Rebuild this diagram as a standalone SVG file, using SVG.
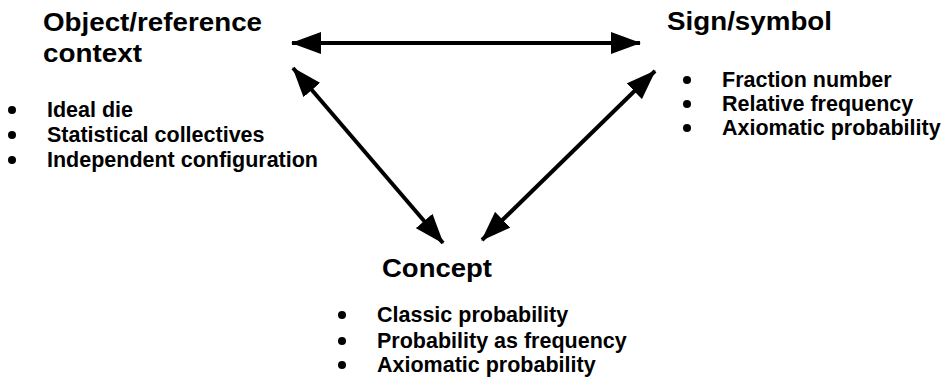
<svg xmlns="http://www.w3.org/2000/svg" width="946" height="380" viewBox="0 0 946 380">
  <style>
    .title { font-family: "Liberation Sans", Arial, sans-serif; font-weight: bold; font-size: 26px; fill: #000; }
    .item { font-family: "Liberation Sans", Arial, sans-serif; font-weight: bold; font-size: 21.5px; fill: #000; }
    .dot { fill: #000; }
    .link { stroke: #000; stroke-width: 4; fill: none; }
  </style>
  <defs>
    <marker id="head" viewBox="0 0 30 22" refX="29" refY="11" markerWidth="30" markerHeight="22" markerUnits="userSpaceOnUse" orient="auto-start-reverse">
      <path d="M0,0 L30,11 L0,22 Z" fill="#000"/>
    </marker>
  </defs>
  <rect width="946" height="380" fill="#fff"/>

  <g id="object-context">
    <text class="title" x="43" y="31" textLength="219" lengthAdjust="spacingAndGlyphs">Object/reference</text>
    <text class="title" x="43" y="62" textLength="99" lengthAdjust="spacingAndGlyphs">context</text>
    <circle class="dot" cx="12" cy="110" r="4"/>
    <circle class="dot" cx="12" cy="135" r="4"/>
    <circle class="dot" cx="12" cy="160" r="4"/>
    <text class="item" x="47" y="117">Ideal die</text>
    <text class="item" x="47" y="142">Statistical collectives</text>
    <text class="item" x="47" y="167" textLength="271" lengthAdjust="spacingAndGlyphs">Independent configuration</text>
  </g>

  <g id="sign-symbol">
    <text class="title" x="667" y="30" textLength="165" lengthAdjust="spacingAndGlyphs">Sign/symbol</text>
    <circle class="dot" cx="687" cy="80" r="4"/>
    <circle class="dot" cx="687" cy="104" r="4"/>
    <circle class="dot" cx="687" cy="128" r="4"/>
    <text class="item" x="722" y="87">Fraction number</text>
    <text class="item" x="722" y="111">Relative frequency</text>
    <text class="item" x="722" y="135">Axiomatic probability</text>
  </g>

  <g id="concept">
    <text class="title" x="382" y="277" textLength="110" lengthAdjust="spacingAndGlyphs">Concept</text>
    <circle class="dot" cx="342" cy="315" r="4"/>
    <circle class="dot" cx="342" cy="341" r="4"/>
    <circle class="dot" cx="342" cy="365" r="4"/>
    <text class="item" x="377" y="322">Classic probability</text>
    <text class="item" x="377" y="348">Probability as frequency</text>
    <text class="item" x="377" y="372">Axiomatic probability</text>
  </g>

  <g id="connectors">
    <path class="link" d="M292,43 L640,43" marker-start="url(#head)" marker-end="url(#head)"/>
    <path class="link" d="M293,68 L443,243" marker-start="url(#head)" marker-end="url(#head)"/>
    <path class="link" d="M655,71 L482,240" marker-start="url(#head)" marker-end="url(#head)"/>
  </g>
</svg>
